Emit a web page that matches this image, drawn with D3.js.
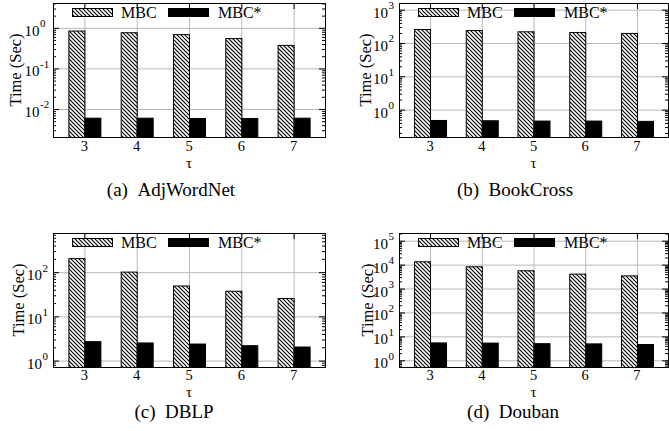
<!DOCTYPE html>
<html>
<head>
<meta charset="utf-8">
<script src="https://cdn.jsdelivr.net/npm/d3@7"></script>
<style>
  body { margin: 0; background: #fff; }
  text { font-family: "Liberation Serif", "Times New Roman", serif; fill: #000; }
</style>
</head>
<body>
<svg width="669" height="431"></svg>
<script>
// data
const categories = [3, 4, 5, 6, 7]
const seriesNames = ['MBC', 'MBC*']

const adjMBC = [0.86, 0.78, 0.70, 0.56, 0.38]
const adjMBCStar = [0.0061, 0.0061, 0.0060, 0.0060, 0.0061]
const bookMBC = [263, 245, 224, 214, 200]
const bookMBCStar = [0.49, 0.48, 0.47, 0.47, 0.46]
const dblpMBC = [208, 103, 50, 38, 26]
const dblpMBCStar = [2.75, 2.57, 2.43, 2.23, 2.08]
const doubanMBC = [13800, 8500, 5800, 4200, 3550]
const doubanMBCStar = [5.6, 5.5, 5.2, 5.1, 4.8]

// y tick exponents (10^k)
const adjExp = [-2, -1, 0]
const bookExp = [0, 1, 2, 3]
const dblpExp = [0, 1, 2]
const doubanExp = [0, 1, 2, 3, 4, 5]

const topRow = { top: 3, capY: 196, xlOff: 13.5, tauOff: 30.5 }
const botRow = { top: 233, capY: 417.5, xlOff: 12.5, tauOff: 29.5 }

const panels = [
  Object.assign({ mbc: adjMBC, star: adjMBCStar, exps: adjExp, domain: [0.00204, 4.1],
    caption: '(a)\u00a0\u00a0AdjWordNet', left: 53, w: 272, capX: 171, ylabX: 15, tickOff: 13.5 }, topRow),
  Object.assign({ mbc: bookMBC, star: bookMBCStar, exps: bookExp, domain: [0.151, 1585],
    caption: '(b)\u00a0\u00a0BookCross', left: 399, w: 269, capX: 515, ylabX: 365, tickOff: 11 }, topRow),
  Object.assign({ mbc: dblpMBC, star: dblpMBCStar, exps: dblpExp, domain: [0.716, 769],
    caption: '(c)\u00a0\u00a0DBLP', left: 53, w: 272, capX: 174, ylabX: 18, tickOff: 11 }, botRow),
  Object.assign({ mbc: doubanMBC, star: doubanMBCStar, exps: doubanExp, domain: [0.525, 2.1e5],
    caption: '(d)\u00a0\u00a0Douban', left: 399, w: 269, capX: 513, ylabX: 367, tickOff: 11 }, botRow)
]

const plotH = 134
const barW = 16
const gridColor = '#b8b8b8'

const svg = d3.select('svg')

// hatch pattern for MBC bars
svg.append('defs').append('pattern')
  .attr('id', 'hatch')
  .attr('patternUnits', 'userSpaceOnUse')
  .attr('width', 4).attr('height', 4)
  .call(p => {
    p.append('rect').attr('width', 4).attr('height', 4).attr('fill', '#fff')
    p.append('path')
      .attr('d', 'M-1,-1L5,5M-1,3L1,5M3,-1L5,1')
      .attr('stroke', '#000').attr('stroke-width', 1.1)
  })

panels.forEach(drawPanel)

function drawPanel(p) {
  const x = d3.scaleLinear().domain([2.4, 7.6]).range([0, p.w])
  const y = d3.scaleLog().domain(p.domain).range([plotH, 0])

  const g = svg.append('g').attr('transform', `translate(${p.left},${p.top})`)

  // major and minor log ticks inside domain
  const majors = p.exps.map(e => Math.pow(10, e))
  const minors = []
  const k0 = Math.floor(Math.log10(p.domain[0])), k1 = Math.ceil(Math.log10(p.domain[1]))
  for (let k = k0; k <= k1; k++) {
    for (let m = 2; m <= 9; m++) {
      const v = m * Math.pow(10, k)
      if (v > p.domain[0] && v < p.domain[1]) minors.push(v)
    }
  }

  // grid
  g.append('g').attr('class', 'grid')
    .call(d3.axisLeft(y).tickValues(majors).tickSize(-p.w).tickFormat(''))
  g.append('g').attr('class', 'grid')
    .call(d3.axisBottom(x).tickValues(categories).tickSize(plotH).tickFormat(''))
  g.selectAll('.grid .domain').remove()
  g.selectAll('.grid line').attr('stroke', gridColor)

  // bars
  const rows = categories.map((c, i) => ({ c, a: p.mbc[i], b: p.star[i] }))
  g.selectAll('rect.mbc').data(rows).enter().append('rect')
    .attr('class', 'mbc')
    .attr('x', d => x(d.c) - barW + 0.5)
    .attr('y', d => y(d.a) + 0.5)
    .attr('width', barW)
    .attr('height', d => plotH - y(d.a))
    .attr('fill', 'url(#hatch)')
    .attr('stroke', '#000')
  g.selectAll('rect.star').data(rows).enter().append('rect')
    .attr('class', 'star')
    .attr('x', d => x(d.c) + 0.5)
    .attr('y', d => y(d.b) + 0.5)
    .attr('width', barW)
    .attr('height', d => plotH - y(d.b))
    .attr('fill', '#000')
    .attr('stroke', '#000')

  // legend
  const lg = g.append('g')
  lg.append('rect').attr('x', 19.5).attr('y', 5.5).attr('width', 40).attr('height', 8)
    .attr('fill', 'url(#hatch)').attr('stroke', '#000')
  lg.append('text').attr('x', 68).attr('y', 15).attr('font-size', 16).text(seriesNames[0])
  lg.append('rect').attr('x', 115.5).attr('y', 5.5).attr('width', 40).attr('height', 8)
    .attr('fill', '#000').attr('stroke', '#000')
  lg.append('text').attr('x', 165).attr('y', 15).attr('font-size', 16).text(seriesNames[1])

  // tick marks, mirrored on all sides
  const tickAxes = [
    d3.axisLeft(y).tickValues(majors).tickSize(-6),
    d3.axisLeft(y).tickValues(minors).tickSize(-3)
  ]
  tickAxes.forEach(a => g.append('g').attr('class', 'tk').call(a.tickFormat('')))
  const rightAxes = [
    d3.axisRight(y).tickValues(majors).tickSize(-6),
    d3.axisRight(y).tickValues(minors).tickSize(-3)
  ]
  rightAxes.forEach(a => g.append('g').attr('class', 'tk')
    .attr('transform', `translate(${p.w},0)`).call(a.tickFormat('')))
  g.append('g').attr('class', 'tk').attr('transform', `translate(0,${plotH})`)
    .call(d3.axisBottom(x).tickValues(categories).tickSize(-6).tickFormat(''))
  g.append('g').attr('class', 'tk')
    .call(d3.axisTop(x).tickValues(categories).tickSize(-6).tickFormat(''))
  g.selectAll('.tk .domain').remove()
  g.selectAll('.tk line').attr('stroke', '#000')

  // frame
  g.append('rect').attr('x', 0.5).attr('y', 0.5).attr('width', p.w).attr('height', plotH)
    .attr('fill', 'none').attr('stroke', '#000')

  // y tick labels 10^k
  p.exps.forEach(e => {
    const ty = y(Math.pow(10, e))
    g.append('text').attr('x', -p.tickOff).attr('y', ty + 8).attr('font-size', 15)
      .attr('text-anchor', 'end').text('10')
    g.append('text').attr('x', -p.tickOff + 0.5).attr('y', ty - 0.5).attr('font-size', 11)
      .text(String(e))
  })

  // x tick labels
  g.selectAll('text.xl').data(categories).enter().append('text')
    .attr('class', 'xl')
    .attr('x', d => x(d)).attr('y', plotH + p.xlOff)
    .attr('text-anchor', 'middle').attr('font-size', 14.5)
    .text(d => d)
  g.append('text').attr('x', x(5)).attr('y', plotH + p.tauOff)
    .attr('text-anchor', 'middle').attr('font-size', 15).text('τ')

  // y label
  svg.append('text')
    .attr('transform', `translate(${p.ylabX},${p.top + plotH / 2}) rotate(-90)`)
    .attr('text-anchor', 'middle').attr('dominant-baseline', 'central')
    .attr('font-size', 16.5).text('Time (Sec)')

  // caption
  svg.append('text').attr('x', p.capX).attr('y', p.capY)
    .attr('text-anchor', 'middle').attr('font-size', 19).text(p.caption)
}
</script>
</body>
</html>
